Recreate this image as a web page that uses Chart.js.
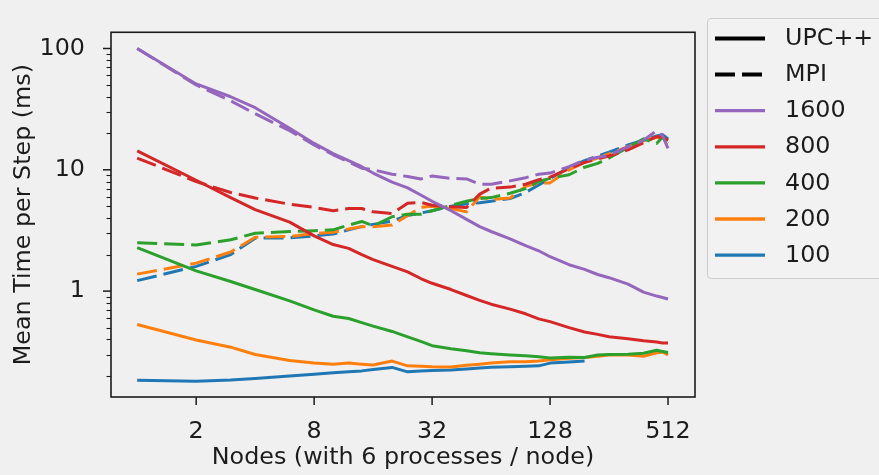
<!DOCTYPE html>
<html>
<head>
<meta charset="utf-8">
<script src="https://cdn.jsdelivr.net/npm/chart.js@4.4.1/dist/chart.umd.min.js"></script>
<style>
  html, body { margin: 0; padding: 0; background: #f0f0f0; }
  #myChart { display: block; }
</style>
</head>
<body>
<canvas id="myChart" width="879" height="475"></canvas>
<script>
// node counts (x axis, log2)
const nodes = [1, 2, 3, 4, 6, 8, 10, 12, 14, 16, 20, 24, 28, 32, 40, 48, 56, 64, 80, 96, 112, 128, 160, 192, 224, 256, 320, 384, 448, 480, 512];

// mean time per step (ms), UPC++ = solid, MPI = dashed
const upc1600 = [100, 51, 40, 32.5, 22, 16.5, 13.6, 11.9, 10.6, 9.4, 7.9, 7.1, 6.2, 5.5, 4.6, 3.9, 3.4, 3.1, 2.7, 2.37, 2.15, 1.92, 1.65, 1.51, 1.37, 1.29, 1.14, 0.98, 0.91, 0.885, 0.86];
const mpi1600 = [100, 50, 37, 29, 21, 16, 13.3, 11.6, 10.3, 10.0, 9.2, 8.8, 8.4, 8.9, 8.5, 8.4, 7.6, 7.6, 8.1, 8.6, 9.2, 9.4, 10.6, 12, 12.7, 13.1, 15.5, 17.5, 21, 19, 15];
const upc800 = [14.3, 8.2, 5.9, 4.7, 3.7, 2.85, 2.42, 2.25, 2.0, 1.82, 1.6, 1.44, 1.27, 1.16, 1.03, 0.92, 0.84, 0.78, 0.71, 0.65, 0.59, 0.56, 0.5, 0.46, 0.44, 0.42, 0.405, 0.39, 0.38, 0.373, 0.373];
const mpi800 = [12.5, 8.0, 6.5, 5.85, 5.2, 4.9, 4.6, 4.8, 4.8, 4.5, 4.35, 5.3, 5.4, 5.1, 4.95, 4.9, 6.3, 7.05, 7.2, 7.6, 8.3, 8.7, 10.2, 11.5, 12.3, 13, 14.6, 16.7, 18.8, 18.5, 17.5];
const upc400 = [2.28, 1.47, 1.2, 1.03, 0.83, 0.7, 0.62, 0.595, 0.55, 0.515, 0.465, 0.42, 0.385, 0.355, 0.335, 0.322, 0.31, 0.305, 0.298, 0.293, 0.288, 0.281, 0.285, 0.284, 0.297, 0.3, 0.302, 0.307, 0.325, 0.318, 0.312];
const mpi400 = [2.5, 2.4, 2.65, 3.0, 3.1, 3.15, 3.2, 3.5, 3.75, 3.45, 4.1, 4.3, 4.3, 4.6, 5.1, 5.5, 5.8, 5.9, 6.4, 7.0, 8.0, 8.5, 9.1, 10.5, 11.3, 12.5, 15.3, 18, 16.5, 18.6, 17.5];
const upc200 = [0.53, 0.395, 0.345, 0.3, 0.268, 0.255, 0.249, 0.256, 0.25, 0.246, 0.265, 0.242, 0.24, 0.238, 0.237, 0.245, 0.25, 0.255, 0.262, 0.262, 0.265, 0.272, 0.28, 0.283, 0.29, 0.298, 0.297, 0.29, 0.31, 0.315, 0.298];
const mpi200 = [1.38, 1.7, 2.1, 2.78, 2.82, 2.98, 3.05, 3.25, 3.4, 3.4, 3.5, 4.2, 4.9, 5.0, 4.8, 4.5, 6.0, 5.7, 5.85, 7.3, 7.8, 7.8, 10, 11.5, 12.5, 13.5, 15.5, 17.3, 18.5, 18, 16.5];
const upc100 = [0.184, 0.181, 0.185, 0.19, 0.2, 0.206, 0.212, 0.216, 0.22, 0.226, 0.235, 0.216, 0.22, 0.222, 0.224, 0.228, 0.232, 0.236, 0.238, 0.24, 0.242, 0.255, 0.26, 0.265, null, null, null, null, null, null, null];
const mpi100 = [1.22, 1.6, 2.0, 2.73, 2.75, 2.85, 2.95, 3.2, 3.4, 3.55, 3.78, 4.2, 4.4, 4.6, 5.0, 5.25, 5.35, 5.5, 5.8, 6.5, 7.5, 8.5, 10.4, 11.9, 13, 14, 16, 17.5, 19, 19.5, 18];

const sizes = ['1600', '800', '400', '200', '100'];
const colors = ['#9467bd', '#d62728', '#2ca02c', '#ff7f0e', '#1f77b4'];
const upcSeries = [upc1600, upc800, upc400, upc200, upc100];
const mpiSeries = [mpi1600, mpi800, mpi400, mpi200, mpi100];

const xTicks = [2, 8, 32, 128, 512];
const yTicks = [1, 10, 100];
const yMinorTicks = [0.2, 0.3, 0.4, 0.5, 0.6, 0.7, 0.8, 0.9, 2, 3, 4, 5, 6, 7, 8, 9, 20, 30, 40, 50, 60, 70, 80, 90];

const dashed = [20, 7];
const legendItems = [
  { label: 'UPC++', color: '#000000', dash: [], width: 4 },
  { label: 'MPI', color: '#000000', dash: dashed, width: 4 },
].concat(sizes.map((s, i) => ({ label: s, color: colors[i], dash: [], width: 3.3 })));

const ink = '#1c1c1c';
const fontSize = 23.8;
Chart.defaults.font.family = '"DejaVu Sans", sans-serif';
Chart.defaults.font.size = fontSize;
Chart.defaults.color = ink;

function toPoints(values) {
  return nodes.map((n, i) => ({ x: n, y: values[i] }));
}

function buildDatasets() {
  const datasets = [];
  sizes.forEach((s, i) => {
    datasets.push({
      label: s + ' UPC++',
      data: toPoints(upcSeries[i]),
      borderColor: colors[i],
      borderWidth: 3,
      borderJoinStyle: 'round',
      pointRadius: 0,
      tension: 0,
    });
    datasets.push({
      label: s + ' MPI',
      data: toPoints(mpiSeries[i]),
      borderColor: colors[i],
      borderWidth: 3,
      borderDash: dashed,
      borderJoinStyle: 'round',
      pointRadius: 0,
      tension: 0,
    });
  });
  return datasets;
}

// frame, tick marks and the legend box (matplotlib look)
const framePlugin = {
  id: 'frame',
  afterDraw(chart) {
    const { ctx, chartArea: a, scales: { x, y } } = chart;
    ctx.save();
    ctx.strokeStyle = ink;
    ctx.setLineDash([]);

    ctx.lineWidth = 1.1;
    yMinorTicks.forEach(v => {
      const py = Math.round(y.getPixelForValue(v)) + 0.5;
      ctx.beginPath(); ctx.moveTo(a.left - 4.5, py); ctx.lineTo(a.left, py); ctx.stroke();
    });
    ctx.lineWidth = 1.5;
    yTicks.forEach(v => {
      const py = y.getPixelForValue(v);
      ctx.beginPath(); ctx.moveTo(a.left - 8, py); ctx.lineTo(a.left, py); ctx.stroke();
    });
    xTicks.forEach(v => {
      const px = x.getPixelForValue(v);
      ctx.beginPath(); ctx.moveTo(px, a.bottom); ctx.lineTo(px, a.bottom + 8); ctx.stroke();
    });

    ctx.lineWidth = 1.6;
    ctx.strokeRect(a.left, a.top, a.right - a.left, a.bottom - a.top);

    // legend
    const lx = 707.5, ly = 18.5, lw = 200, lh = 260;
    ctx.fillStyle = '#f2f2f2';
    ctx.strokeStyle = '#cfcfcf';
    ctx.lineWidth = 1.2;
    ctx.beginPath();
    ctx.roundRect(lx, ly, lw, lh, 4);
    ctx.fill();
    ctx.stroke();

    ctx.font = fontSize + 'px "DejaVu Sans", sans-serif';
    ctx.textBaseline = 'middle';
    ctx.textAlign = 'left';
    legendItems.forEach((item, i) => {
      const ry = 38.5 + i * 36.1;
      ctx.strokeStyle = item.color;
      ctx.lineWidth = item.width;
      ctx.setLineDash(item.dash);
      ctx.beginPath(); ctx.moveTo(715, ry); ctx.lineTo(765, ry); ctx.stroke();
      ctx.fillStyle = ink;
      ctx.fillText(item.label, 785, ry + 0.5);
    });
    ctx.restore();
  }
};

function createTimingChart() {
  const ctx = document.getElementById('myChart').getContext('2d');
  new Chart(ctx, {
    type: 'line',
    data: { datasets: buildDatasets() },
    options: {
      responsive: false,
      animation: false,
      layout: { autoPadding: false, padding: { left: 0, top: 6, right: 184, bottom: 0 } },
      plugins: { legend: { display: false }, tooltip: { enabled: false } },
      scales: {
        x: {
          type: 'logarithmic',
          min: 0.735,
          max: 703,
          bounds: 'data',
          grid: { display: false },
          border: { display: false },
          afterBuildTicks: axis => { axis.ticks = xTicks.map(v => ({ value: v })); },
          afterFit: axis => { axis.height = 78; },
          ticks: { padding: 13, maxRotation: 0, autoSkip: false, callback: v => String(v) },
          title: { display: true, text: 'Nodes (with 6 processes / node)', padding: { top: 0, bottom: 3 } },
        },
        y: {
          type: 'logarithmic',
          min: 0.134,
          max: 136,
          bounds: 'data',
          grid: { display: false },
          border: { display: false },
          afterBuildTicks: axis => { axis.ticks = yTicks.map(v => ({ value: v })); },
          afterFit: axis => { axis.width = 111; },
          ticks: { padding: 18, autoSkip: false, callback: v => String(v) },
          title: { display: true, text: 'Mean Time per Step (ms)', padding: { top: 10, bottom: 0 } },
        },
      },
    },
    plugins: [framePlugin],
  });
}

document.addEventListener('DOMContentLoaded', createTimingChart);
</script>
</body>
</html>
